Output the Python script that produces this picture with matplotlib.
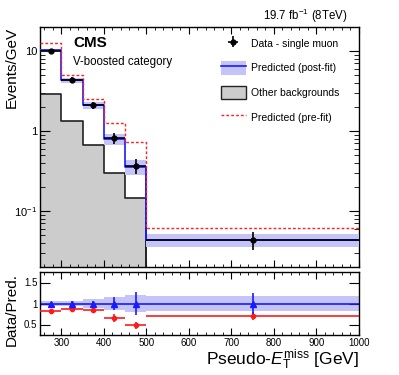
import numpy as np
import matplotlib
matplotlib.use("Agg")
import matplotlib.pyplot as plt
from matplotlib.patches import Patch
from matplotlib.lines import Line2D
from matplotlib.ticker import MultipleLocator, NullFormatter, LogLocator

plt.rcParams['font.family'] = ['Liberation Sans', 'DejaVu Sans']
plt.rcParams['mathtext.fontset'] = 'custom'
plt.rcParams['mathtext.rm'] = 'Liberation Sans'
plt.rcParams['mathtext.it'] = 'Liberation Sans:italic'
plt.rcParams['mathtext.bf'] = 'Liberation Sans:bold'

# ---- data ----
edges = [250, 300, 350, 400, 450, 500, 1000]
data = [10.1, 4.34, 2.11, 0.81, 0.37, 0.0434]
data_err = [0.4, 0.35, 0.2, 0.13, 0.08, 0.011]
postfit = [10.2, 4.35, 2.10, 0.80, 0.36, 0.044]
postfit_rel_unc = [0.05, 0.07, 0.10, 0.16, 0.21, 0.18]
other = [2.9, 1.35, 0.67, 0.296, 0.144, 0.0]
prefit = [12.5, 4.97, 2.51, 1.25, 0.72, 0.062]
ratio_post = [1.0, 1.0, 1.0, 1.0, 1.0, 1.0]
ratio_post_err = [0.03, 0.05, 0.07, 0.16, 0.27, 0.25]
ratio_pre = [0.81, 0.87, 0.84, 0.65, 0.48, 0.70]
ratio_pre_err = [0.03, 0.04, 0.05, 0.09, 0.08, 0.10]

edges = np.array(edges, float)
centers = 0.5 * (edges[:-1] + edges[1:])
halfw = 0.5 * (edges[1:] - edges[:-1])
data = np.array(data); data_err = np.array(data_err)
postfit = np.array(postfit); unc = np.array(postfit_rel_unc)
other = np.array(other); prefit = np.array(prefit)

def stepvals(v):
    return np.append(v, v[-1])

band_col = '#c4c4f8'

fig = plt.figure(figsize=(3.99, 3.75), dpi=100)
ax = fig.add_axes([40/399, 1-267/375, 319/399, 240/375])
axr = fig.add_axes([40/399, 1-335/375, 319/399, 63/375])

# main panel
ax.fill_between(edges, stepvals(other), 1e-5, step='post', color='#cccccc', lw=0, zorder=1)
ax.step(edges, stepvals(other), where='post', color='#222222', lw=1.2, zorder=2)
ax.plot([edges[5], edges[5]], [other[4], 1e-5], color='#222222', lw=1.2, zorder=2)
ax.fill_between(edges, stepvals(postfit*(1-unc)), stepvals(postfit*(1+unc)), step='post',
                color=band_col, lw=0, zorder=3)
ax.step(edges, stepvals(postfit), where='post', color='#1a1aff', lw=1.2, zorder=4)
ax.plot([edges[-2], edges[-2]], [postfit[-2], postfit[-1]], color='#1a1aff', lw=1.2, zorder=4)
ax.step(edges, stepvals(prefit), where='post', color='#ff2020', lw=1.0, ls=(0, (2, 1.5)), zorder=5)
eb = ax.errorbar(centers, data, yerr=data_err, xerr=halfw, fmt='o', color='black', ms=3.5,
                 lw=1.2, capsize=0, zorder=6)

ax.set_yscale('log')
ax.set_xlim(250, 1000)
ax.set_ylim(0.02, 20)
ax.set_ylabel('Events/GeV', fontsize=11, loc='top')
ax.yaxis.set_label_coords(-0.066, 1.0)
ax.yaxis.set_minor_locator(LogLocator(base=10, subs=np.arange(2, 10), numticks=10))
ax.yaxis.set_minor_formatter(NullFormatter())
ax.set_yticks([0.1, 1, 10])
ax.set_yticklabels(['$10^{-1}$', '1', '10'])
ax.xaxis.set_major_locator(MultipleLocator(100))
ax.xaxis.set_minor_locator(MultipleLocator(20))
ax.tick_params(axis='both', which='both', direction='in', top=True, right=True, labelbottom=False)
ax.tick_params(axis='y', which='major', length=7, labelsize=8, pad=2)
ax.tick_params(axis='y', which='minor', length=3.5)
ax.tick_params(axis='x', which='major', length=5)
ax.tick_params(axis='x', which='minor', length=2.5)

ax.text(0.105, 0.932, 'CMS', transform=ax.transAxes, fontsize=11, fontweight='bold', va='center')
ax.text(0.105, 0.856, 'V-boosted category', transform=ax.transAxes, fontsize=8.3, va='center')
fig.text(348/399, 1-16/375, r'19.7 fb$^{-1}$ (8TeV)', fontsize=8.3, ha='right', va='center')

h_data = eb
h_post = (Patch(facecolor=band_col, edgecolor='none'), Line2D([], [], color='#1a1aff', lw=1.2))
h_other = Patch(facecolor='#cccccc', edgecolor='#222222', lw=1.0)
h_pre = Line2D([], [], color='#ff2020', lw=1.0, ls=(0, (2, 1.5)))
leg = ax.legend([h_data, h_post, h_other, h_pre],
                ['Data - single muon', 'Predicted (post-fit)', 'Other backgrounds', 'Predicted (pre-fit)'],
                loc='upper left', bbox_to_anchor=(0.54, 0.995), frameon=False, fontsize=7.5,
                handlelength=2.4, handleheight=1.6, labelspacing=1.08, handletextpad=0.5,
                borderpad=0.3)

# ratio panel
axr.fill_between(edges, stepvals(1-unc), stepvals(1+unc), step='post', color=band_col, lw=0, zorder=1)
axr.axhline(1.0, color='#1a1aff', lw=1.2, zorder=2)
axr.errorbar(centers, ratio_pre, yerr=ratio_pre_err, xerr=halfw, fmt='o', color='#ff1a1a',
             ms=3, lw=1.2, capsize=0, zorder=3)
axr.errorbar(centers, ratio_post, yerr=ratio_post_err, fmt='^', color='#1a1aff',
             ms=4, lw=1.2, capsize=0, zorder=4)
axr.set_xlim(250, 1000)
axr.set_ylim(0.25, 1.75)
axr.set_yticks([0.5, 1.0, 1.5])
axr.set_yticklabels(['0.5', '1', '1.5'])
axr.xaxis.set_major_locator(MultipleLocator(100))
axr.xaxis.set_minor_locator(MultipleLocator(20))
axr.tick_params(axis='both', which='both', direction='in', top=True, right=True)
axr.tick_params(axis='x', which='major', length=5, labelsize=7, pad=2)
axr.tick_params(axis='x', which='minor', length=2.5)
axr.tick_params(axis='y', which='major', length=7, labelsize=7, pad=2)
axr.set_ylabel('Data/Pred.', fontsize=11)
axr.yaxis.set_label_coords(-0.066, 0.4)
axr.set_xlabel(r'Pseudo-$E_{\mathrm{T}}^{\mathrm{miss}}$ [GeV]', fontsize=12.5, loc='right', labelpad=0)

for a in (ax, axr):
    for s in a.spines.values():
        s.set_linewidth(1.0)

fig.savefig('out.png', dpi=100)
